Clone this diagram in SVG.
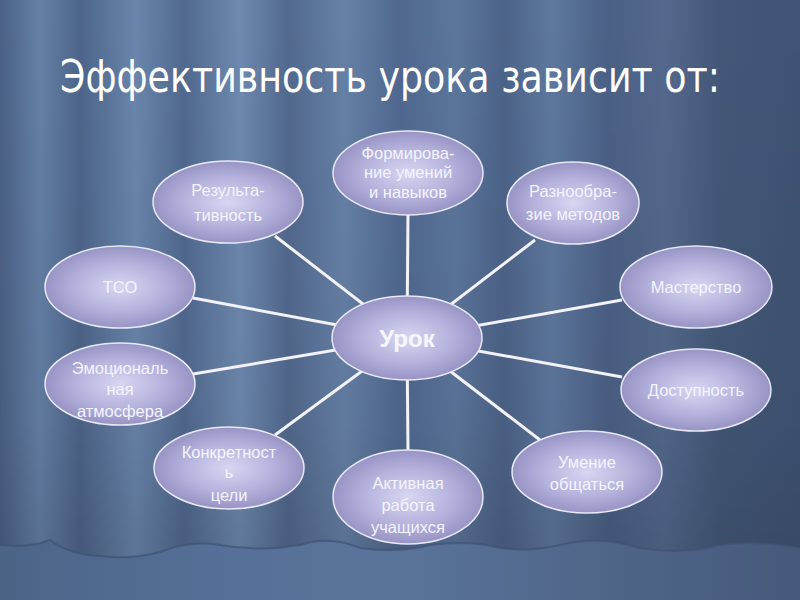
<svg xmlns="http://www.w3.org/2000/svg" width="800" height="600" viewBox="0 0 800 600">
<defs>
<linearGradient id="curtain" x1="0" y1="0" x2="800" y2="0" gradientUnits="userSpaceOnUse">
<stop offset="0" stop-color="#4a6185"/>
<stop offset="0.05" stop-color="#6580a6"/>
<stop offset="0.1" stop-color="#4d658a"/>
<stop offset="0.17" stop-color="#6a86ac"/>
<stop offset="0.23" stop-color="#51698f"/>
<stop offset="0.3" stop-color="#6e8ab0"/>
<stop offset="0.36" stop-color="#52698e"/>
<stop offset="0.43" stop-color="#6681a7"/>
<stop offset="0.5" stop-color="#506890"/>
<stop offset="0.57" stop-color="#5c769c"/>
<stop offset="0.63" stop-color="#4c6388"/>
<stop offset="0.69" stop-color="#5e789e"/>
<stop offset="0.76" stop-color="#4a6085"/>
<stop offset="0.83" stop-color="#54698d"/>
<stop offset="0.9" stop-color="#435878"/>
<stop offset="1" stop-color="#3f5374"/>
</linearGradient>
<linearGradient id="shade" x1="0" y1="0" x2="0" y2="1">
<stop offset="0" stop-color="#000" stop-opacity="0"/>
<stop offset="0.7" stop-color="#000" stop-opacity="0.05"/>
<stop offset="1" stop-color="#000" stop-opacity="0.15"/>
</linearGradient>
<linearGradient id="floor" x1="0" y1="0" x2="800" y2="0" gradientUnits="userSpaceOnUse">
<stop offset="0" stop-color="#4c6486"/>
<stop offset="0.3" stop-color="#56709a"/>
<stop offset="0.5" stop-color="#5a7399"/>
<stop offset="0.75" stop-color="#4f6689"/>
<stop offset="1" stop-color="#455a7b"/>
</linearGradient>
<radialGradient id="bubble" cx="0.5" cy="0.5" r="0.55">
<stop offset="0" stop-color="#d8d6f2"/>
<stop offset="0.55" stop-color="#b4b1dc"/>
<stop offset="1" stop-color="#908dbf"/>
</radialGradient>
</defs>
<style>
.node ellipse{fill:url(#bubble);stroke:#e8e8f8;stroke-width:1.5}
.lbl{font-family:"Liberation Sans",Arial,sans-serif;font-size:16.5px;fill:#f4f4ff;text-anchor:middle}
.conn line{stroke:#f2f2f8;stroke-width:3}
</style>
<rect width="800" height="600" fill="url(#curtain)"/>
<rect width="800" height="600" fill="url(#shade)"/>
<path d="M0 545 Q30 548 50 540 Q70 555 100 556 Q130 560 160 552 Q190 540 220 545 Q260 552 300 545 Q330 535 360 548 Q400 553 430 545 Q470 540 500 548 Q530 552 560 545 Q600 535 640 548 Q680 555 720 545 Q760 540 800 548 L800 600 L0 600 Z" fill="url(#floor)"/>
<path d="M0 545 Q30 548 50 540 Q70 555 100 556 Q130 560 160 552 Q190 540 220 545 Q260 552 300 545 Q330 535 360 548 Q400 553 430 545 Q470 540 500 548 Q530 552 560 545 Q600 535 640 548 Q680 555 720 545 Q760 540 800 548" fill="none" stroke="#3e5274" stroke-width="2" opacity="0.7"/>
<text x="60" y="92" font-family="'DejaVu Sans Condensed','DejaVu Sans',sans-serif" font-size="44" fill="#ffffff" textLength="660" lengthAdjust="spacingAndGlyphs">Эффективность урока зависит от:</text>
<g id="connectors" class="conn">
<line x1="407" y1="338" x2="408" y2="214"/>
<line x1="407" y1="338" x2="535" y2="240"/>
<line x1="407" y1="338" x2="622" y2="300"/>
<line x1="407" y1="338" x2="622" y2="377"/>
<line x1="407" y1="338" x2="540" y2="440"/>
<line x1="407" y1="338" x2="408" y2="451"/>
<line x1="407" y1="338" x2="275" y2="435"/>
<line x1="407" y1="338" x2="193" y2="374"/>
<line x1="407" y1="338" x2="193" y2="298"/>
<line x1="407" y1="338" x2="275" y2="236"/>
</g>
<g id="n-form" class="node"><ellipse cx="408" cy="173" rx="75" ry="42"/>
<text class="lbl" x="408" y="159">Формирова-</text><text class="lbl" x="408" y="178">ние умений</text><text class="lbl" x="408" y="198">и навыков</text></g>
<g id="n-razn" class="node"><ellipse cx="573" cy="203" rx="66" ry="41"/>
<text class="lbl" x="573" y="197">Разнообра-</text><text class="lbl" x="573" y="220">зие методов</text></g>
<g id="n-mast" class="node"><ellipse cx="696" cy="287" rx="76" ry="41"/>
<text class="lbl" x="696" y="293">Мастерство</text></g>
<g id="n-dost" class="node"><ellipse cx="696" cy="390" rx="75" ry="41"/>
<text class="lbl" x="696" y="396">Доступность</text></g>
<g id="n-umen" class="node"><ellipse cx="587" cy="472" rx="75" ry="41"/>
<text class="lbl" x="587" y="468">Умение</text><text class="lbl" x="587" y="490">общаться</text></g>
<g id="n-akt" class="node"><ellipse cx="408" cy="497" rx="75" ry="47"/>
<text class="lbl" x="408" y="489">Активная</text><text class="lbl" x="408" y="511">работа</text><text class="lbl" x="408" y="533">учащихся</text></g>
<g id="n-konk" class="node"><ellipse cx="229" cy="468" rx="75" ry="41"/>
<text class="lbl" x="229" y="458">Конкретност</text><text class="lbl" x="229" y="478">ь</text><text class="lbl" x="229" y="501">цели</text></g>
<g id="n-emo" class="node"><ellipse cx="120" cy="384" rx="75" ry="41"/>
<text class="lbl" x="120" y="374">Эмоциональ</text><text class="lbl" x="120" y="395">ная</text><text class="lbl" x="120" y="417">атмосфера</text></g>
<g id="n-tso" class="node"><ellipse cx="120" cy="287" rx="75" ry="41"/>
<text class="lbl" x="120" y="293">ТСО</text></g>
<g id="n-rez" class="node"><ellipse cx="228" cy="202" rx="75" ry="41"/>
<text class="lbl" x="228" y="196">Результа-</text><text class="lbl" x="228" y="221">тивность</text></g>
<g id="n-urok" class="node"><ellipse cx="407" cy="338" rx="75" ry="42"/>
<text x="407" y="347" font-family="'Liberation Sans',Arial,sans-serif" font-size="24" font-weight="bold" fill="#f6f6ff" text-anchor="middle">Урок</text></g>
</svg>
